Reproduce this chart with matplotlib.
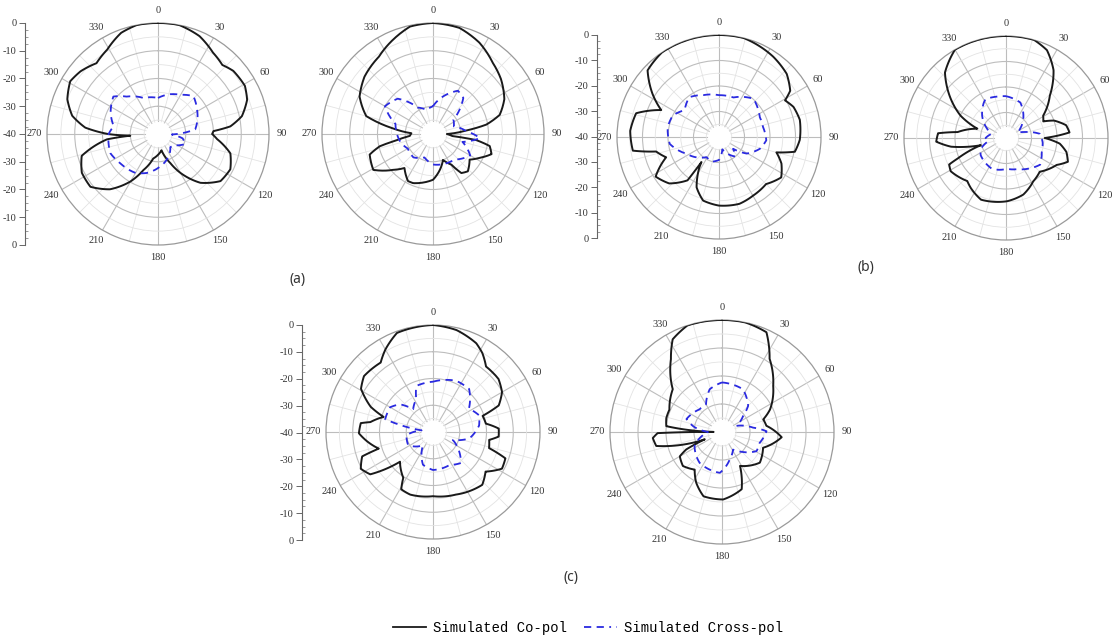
import matplotlib
matplotlib.use("Agg")
import matplotlib.pyplot as plt
from matplotlib.lines import Line2D
from matplotlib.ticker import MultipleLocator
import numpy as np

# ---- data (angle in degrees, clockwise from top; gain in dB) ----
a1_co_ang = [0, 11, 23, 34, 43, 50, 61, 69, 78, 84, 87, 90, 95, 105, 116, 127, 139, 150, 157, 168,
             180, 191, 202, 210, 221, 232, 243, 254, 259, 264, 266.5, 270, 275, 282, 291, 301, 309, 319, 329, 340, 349, 360]
a1_co_db = [0, 0, -1.7, -4.6, -6, -4.6, -4.2, -5.6, -9.1, -13.8, -20, -20.5, -18.6, -13, -11, -11.8, -16.7, -23.8, -28.6, -34,
            -32.5, -31, -26, -20.3, -13.6, -9.1, -9.2, -11.4, -16.4, -21.5, -30, -22, -13.7, -8.4, -5, -3.1, -4.1, -6.2, -4.5, -1.2, 0, 0]
a1_cx_ang = [0, 17, 30, 43, 58, 75, 83, 92, 100, 110, 125, 137, 155, 176, 196, 210, 232, 248, 270, 280, 294, 310, 320, 338, 360]
a1_cx_db = [-27, -25, -23.7, -21.3, -23.4, -25.5, -26.5, -35, -31, -29.5, -33, -33.5, -31, -28.3, -25.4, -23.8, -22.8, -21.5,
            -22.2, -23.8, -21.3, -19, -22.4, -26, -27]

a2_co_ang = [0, 14, 27, 40, 51, 64, 74, 80, 84, 90, 96, 98, 102, 109, 117, 125, 137, 144, 149, 159, 169, 180, 202, 208,
             220, 228, 239, 252, 257, 260, 265, 272, 278, 285, 297, 310, 325, 337, 348, 360]
a2_co_db = [0, -0.6, -3.1, -6.5, -8.5, -11.4, -15, -20.5, -28, -35, -33, -24.3, -19.1, -17.7, -21.1, -23.9, -21.6, -22.6,
            -27.1, -30, -26.9, -23.5, -20.9, -20.8, -24, -20.7, -14.9, -16, -20.3, -26.5, -31.6, -32.2, -25.4, -15.1,
            -10.3, -7.8, -6, -3.1, -0.4, 0]
a2_cx_ang = [0, 15, 30, 40, 55, 70, 85, 95, 105, 120, 140, 160, 180, 200, 220, 240, 255, 270, 285, 300, 315, 330, 345, 360]
a2_cx_db = [-30, -26, -22, -23, -31, -32, -28, -23, -29, -24.5, -28, -28.5, -29, -31, -29, -29.5, -28, -27, -26, -20, -22,
            -29, -31, -30]

b1_co_ang = [0, 14, 34, 47, 57, 61, 68, 78, 92, 101, 105, 113, 123, 135, 150, 163, 180, 194, 204, 213, 215, 216, 227, 238,
             243, 249, 257, 261, 274, 286, 295, 303, 313, 326, 345, 360]
b1_co_db = [0, 0, -2, -3.7, -6.7, -10.4, -8.5, -7.6, -8.3, -9.7, -16.7, -13.4, -10.9, -13.9, -13.4, -12.6, -13.1, -14.3,
            -18.4, -26, -28, -19, -13.3, -10.7, -13.9, -17.8, -14.7, -5.8, -5.1, -6.2, -15, -8.9, -1.7, 0, 0, 0]
b1_cx_ang = [0, 20, 42, 64, 77, 94, 106, 121, 130, 140, 155, 165, 180, 195, 212, 243, 262, 281, 295, 308, 323, 340, 360]
b1_cx_db = [-23.6, -23.5, -19.8, -22.2, -22.3, -21.4, -23.3, -27.4, -32.8, -30, -33, -35, -31, -30, -30.7, -25.6, -20.5,
            -19.5, -20, -22.9, -20.5, -22.5, -23.6]

b2_co_ang = [0, 16, 25, 35, 46, 59, 66, 70, 78, 85, 90, 96, 103, 111, 118, 135, 148, 163, 179, 202, 215, 222, 239, 245,
             247, 254, 261, 267, 274, 277, 288, 296, 305, 317, 330, 346, 360]
b2_co_db = [0, 0, -2, -7.5, -16.1, -23, -24, -20, -15.9, -15, -24.8, -18.8, -15.7, -14, -17.5, -21.3, -19.9, -16.8, -15.2,
            -13.9, -16, -17.3, -14.7, -15.4, -19.4, -29.7, -18.2, -12.6, -13.3, -20.9, -28.2, -20.3, -13.7, -4.9, 0, 0, 0]
b2_cx_ang = [0, 22, 38, 55, 65, 71, 83, 97, 111, 128, 142, 160, 178, 204, 236, 247, 260, 270, 285, 296, 313, 328, 332,
             348, 360]
b2_cx_db = [-23.6, -25, -28.9, -33, -35, -32.8, -26.6, -25.5, -25, -23, -24.9, -27, -27.9, -26.7, -28, -29.3, -33, -32,
            -34, -31.8, -27.2, -23.6, -22.8, -23.4, -23.6]

c1_co_ang = [0, 13, 26, 32, 39, 51, 60, 68, 72, 81, 87, 94, 98, 106, 110, 118, 127, 137, 160, 180, 200, 209, 213, 228,
             236, 243, 251, 253, 262, 269, 277, 279, 287, 292, 301, 309, 323, 330, 340, 360]
c1_co_db = [0, -0.9, -3.1, -5.2, -8.5, -8.5, -10.2, -13.5, -20.5, -20, -15.4, -15.4, -18.8, -18.2, -11.2, -10.8, -15.4,
            -13, -15.1, -16, -15.1, -15.5, -19.6, -23.4, -11.7, -9.7, -12, -18.8, -15.1, -12.3, -12.8, -16.3, -20.7,
            -14.9, -8.6, -6.8, -7.5, -4.4, -0.6, 0]
c1_cx_ang = [0, 24, 40, 57, 70, 82, 100, 112, 127, 138, 153, 180, 197, 217, 242, 263, 278, 285, 300, 310, 319, 333, 340,
             352, 360]
c1_cx_db = [-21.2, -19, -19, -24, -21.7, -22.6, -26.2, -32, -27.7, -24.4, -26.2, -25.8, -27.2, -33.8, -29.5, -30, -35.7,
            -21.5, -21.5, -23.9, -28.7, -26.2, -21.7, -21.4, -21.2]

c2_co_ang = [0, 12, 24, 33, 48, 65, 73, 82, 95, 111, 129, 152, 161, 179, 196, 207, 216, 229, 240, 244, 247, 258, 265,
             269, 270.5, 276, 284, 293, 311, 325, 332, 342, 360]
c2_co_db = [0, 0, -1, -8.8, -15.4, -21.1, -24.6, -24, -18.6, -24.3, -22.6, -26.3, -18.4, -15.9, -16.1, -19.7, -23.4,
            -21.5, -22.6, -25.8, -33.3, -16, -15.2, -17, -37, -20, -19.5, -19.6, -16.7, -8.2, -2.5, 0, 0]
c2_cx_ang = [0, 26, 45, 53, 67, 82, 89, 106, 119, 135, 148, 164, 183, 216, 243, 260, 270, 280, 290, 315, 330, 344, 360]
c2_cx_db = [-22.3, -23, -26.8, -30.6, -34.4, -28.8, -24.1, -26, -25.9, -30, -32.6, -29.9, -25.4, -26.4, -29, -33, -35,
            -30, -26.5, -28.6, -28.6, -24.1, -22.3]

angle_labels = [str(a) for a in range(0, 360, 30)]

# ---- layout: [left, bottom, width, height] in figure fraction ----
W, H = 1113, 637


def box(cx, cy, r):
    return [(cx - r) / W, 1 - (cy + r) / H, 2 * r / W, 2 * r / H]


panels = [
    (box(158, 134, 111), a1_co_ang, a1_co_db, a1_cx_ang, a1_cx_db),
    (box(433, 134, 111), a2_co_ang, a2_co_db, a2_cx_ang, a2_cx_db),
    (box(719, 137, 102), b1_co_ang, b1_co_db, b1_cx_ang, b1_cx_db),
    (box(1006, 138, 102), b2_co_ang, b2_co_db, b2_cx_ang, b2_cx_db),
    (box(433, 432, 107), c1_co_ang, c1_co_db, c1_cx_ang, c1_cx_db),
    (box(722, 432, 112), c2_co_ang, c2_co_db, c2_cx_ang, c2_cx_db),
]

# left dB scales: (x pixel, top pixel, bottom pixel)
scales = [(25, 23, 245), (597, 35, 238), (302, 325, 540)]

serif = "Liberation Serif"
co_color = "#1a1a1a"
cx_color = "#2a2ae0"

fig = plt.figure(figsize=(W / 100, H / 100), dpi=100)

for rect, co_a, co_d, cx_a, cx_d in panels:
    ax = fig.add_axes(rect, projection="polar")
    ax.set_theta_zero_location("N")
    ax.set_theta_direction(-1)
    ax.set_ylim(-40, 0)
    ax.set_xticks(np.deg2rad(np.arange(0, 360, 30)))
    ax.set_xticklabels(angle_labels, fontsize=7.5, family=serif, color="#333333")
    ax.set_xticks(np.deg2rad(np.arange(15, 360, 30)), minor=True)
    ax.set_yticks([-30, -20, -10])
    ax.set_yticks([-35, -25, -15, -5], minor=True)
    ax.set_yticklabels([])
    ax.tick_params(axis="x", which="both", length=0, pad=2)
    ax.tick_params(axis="y", which="both", length=0)
    ax.grid(which="major", color="#bdbdbd", lw=0.8)
    ax.grid(which="minor", color="#e3e3e3", lw=0.6)
    ax.spines["polar"].set_color("#9a9a9a")
    ax.spines["polar"].set_linewidth(0.9)
    th = np.linspace(0, 2 * np.pi, 200)
    ax.fill_between(th, -40, -35.5, color="white", zorder=2, lw=0)
    l1, = ax.plot(np.deg2rad(co_a), co_d, color=co_color, lw=1.4, zorder=3)
    l2, = ax.plot(np.deg2rad(cx_a), cx_d, color=cx_color, lw=1.3, ls=(0, (4, 3)), zorder=3)
    # let the polar transform draw each segment as a curve
    for ln in (l1, l2):
        ln.get_path()._interpolation_steps = 16

for x, top, bot in scales:
    sx = fig.add_axes([x / W, 1 - bot / H, 0.0005, (bot - top) / H])
    for s in ["top", "right", "bottom"]:
        sx.spines[s].set_visible(False)
    sx.spines["left"].set_color("#666666")
    sx.spines["left"].set_linewidth(0.8)
    sx.set_xticks([])
    sx.set_ylim(-40, 40)
    ticks = np.arange(-40, 41, 10)
    sx.set_yticks(ticks)
    sx.set_yticklabels([str(abs(int(v)) - 40) if v not in (-40, 40) else "0" for v in ticks],
                       fontsize=7.5, family=serif, color="#333333")
    sx.yaxis.set_minor_locator(MultipleLocator(2.5))
    sx.tick_params(axis="y", which="major", direction="out", length=4, width=0.7, color="#666666", pad=2)
    sx.tick_params(axis="y", which="minor", direction="in", length=2, width=0.6, color="#888888")

fig.text(298 / W, 1 - 280 / H, "(a)", fontsize=10, family="Noto Sans", ha="center", va="center", color="#333333")
fig.text(866 / W, 1 - 268 / H, "(b)", fontsize=10, family="Noto Sans", ha="center", va="center", color="#333333")
fig.text(571 / W, 1 - 578 / H, "(c)", fontsize=10, family="Noto Sans", ha="center", va="center", color="#333333")

handles = [Line2D([], [], color=co_color, lw=1.3),
           Line2D([], [], color=cx_color, lw=1.3, ls=(0, (4, 3, 4, 3, 1, 3)))]
fig.legend(handles, ["Simulated Co-pol", "Simulated Cross-pol"], loc="center",
           bbox_to_anchor=(588 / W, 1 - 628 / H), ncol=2, frameon=False,
           prop={"family": "Liberation Mono", "size": 10}, handlelength=2.4,
           handletextpad=0.5, columnspacing=1.2)

fig.savefig("out.png", dpi=100)
